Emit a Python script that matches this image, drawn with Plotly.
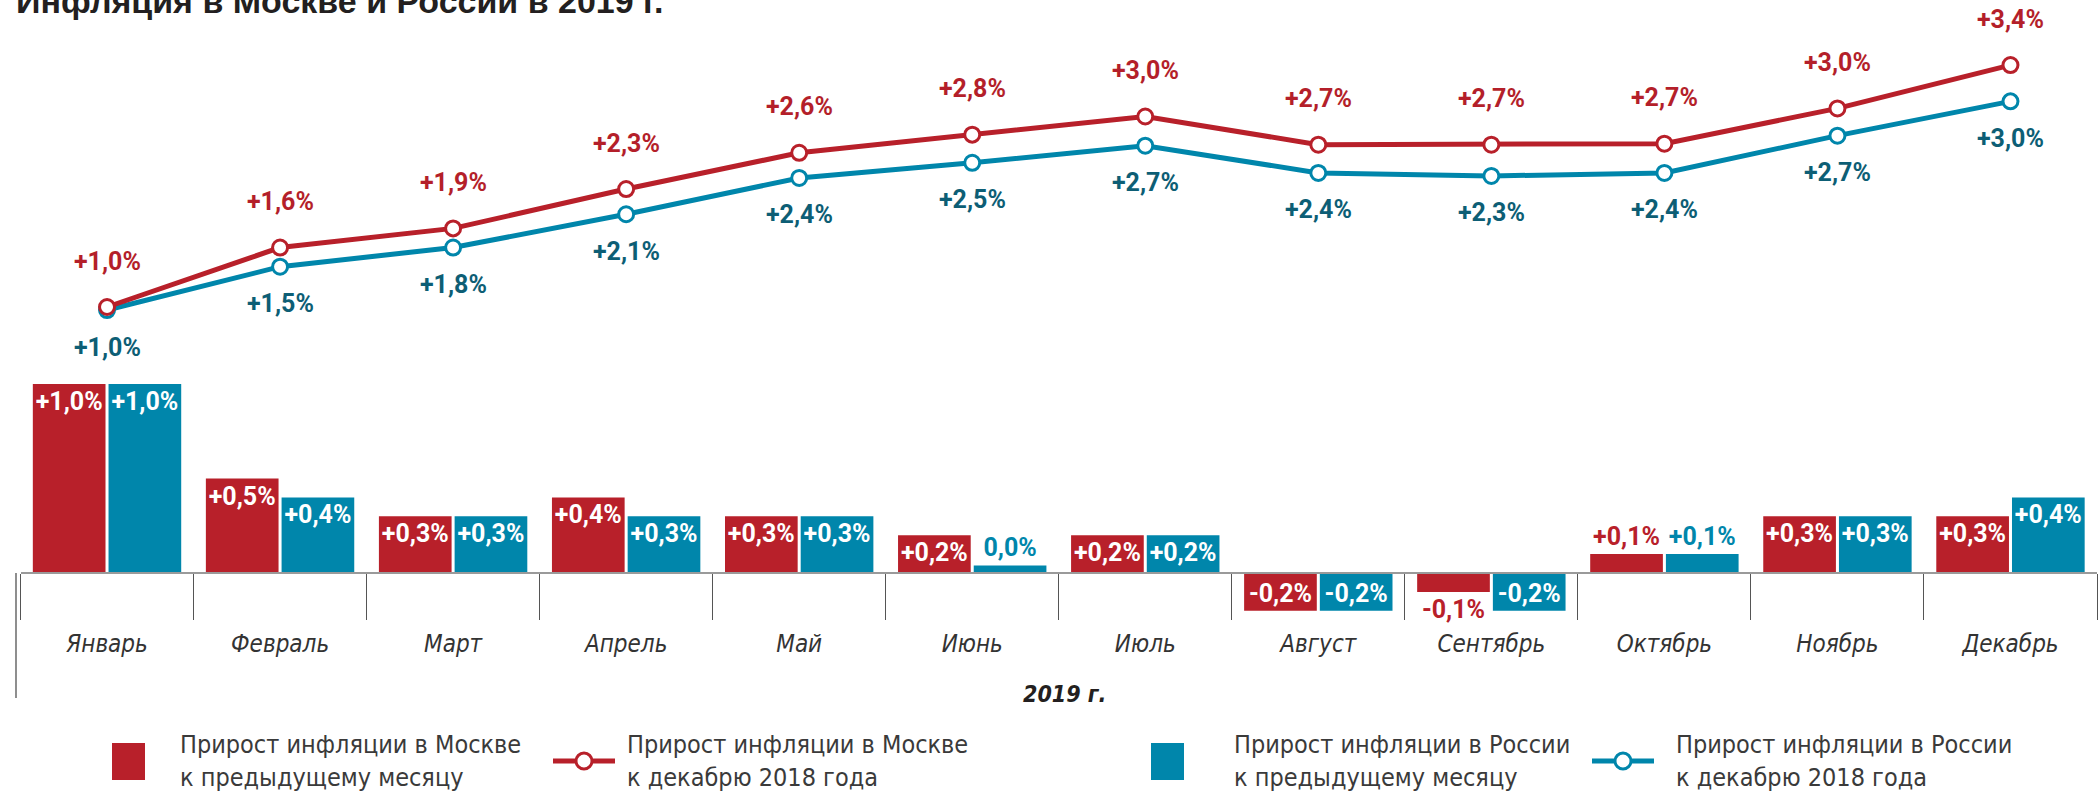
import plotly.graph_objects as go

W, H = 2098, 793

months = ["Январь", "Февраль", "Март", "Апрель", "Май", "Июнь",
          "Июль", "Август", "Сентябрь", "Октябрь", "Ноябрь", "Декабрь"]

# monthly change (bars), %
moscow_mom = [1.0, 0.5, 0.3, 0.4, 0.3, 0.2, 0.2, -0.2, -0.1, 0.1, 0.3, 0.3]
russia_mom = [1.0, 0.4, 0.3, 0.3, 0.3, 0.04, 0.2, -0.2, -0.2, 0.1, 0.3, 0.4]

# cumulative change to December 2018 (lines), positions
moscow_cum = [1.00, 1.59, 1.78, 2.17, 2.53, 2.71, 2.89, 2.61, 2.61, 2.62, 2.97, 3.40]
russia_cum = [0.97, 1.40, 1.59, 1.92, 2.28, 2.43, 2.60, 2.33, 2.30, 2.33, 2.70, 3.04]
# printed labels of the cumulative series
moscow_cum_labels = [1.0, 1.6, 1.9, 2.3, 2.6, 2.8, 3.0, 2.7, 2.7, 2.7, 3.0, 3.4]
russia_cum_labels = [1.0, 1.5, 1.8, 2.1, 2.4, 2.5, 2.7, 2.4, 2.3, 2.4, 2.7, 3.0]

title_text = "Инфляция в Москве и России в 2019 г."
axis_title = "2019 г."
legend_texts = ["Прирост инфляции в Москве<br>к предыдущему месяцу",
                "Прирост инфляции в Москве<br>к декабрю 2018 года",
                "Прирост инфляции в России<br>к предыдущему месяцу",
                "Прирост инфляции в России<br>к декабрю 2018 года"]

RED = "#B8202A"
BLUE = "#0086AB"
RED_TXT = "#B41F2A"
BLUE_TXT = "#0D5E75"
FONT = "DejaVu Sans Condensed, DejaVu Sans, sans-serif"
NUMFONT = "Roboto, sans-serif"


def fmt(v):
    r = round(v, 1)
    if r == 0:
        return "0,0%"
    return ("+" if r > 0 else "-") + f"{abs(r):.1f}".replace(".", ",") + "%"


def px(x):
    return x / W


def py(y):
    return 1 - y / H


# pixel layout
x_left, x_right = 20.5, 2097
base_px, unit_bar = 573, 189          # bars: zero line, px per 1 %
y_lo, y_hi = -0.6, 1.1
line_ref_px, unit_line = 307, 100.8   # lines: value 1.0 at px, px per 1 %
y2_lo, y2_hi = 0.5, 3.7

fig = go.Figure()


def bar_trace(vals, color):
    pos = ["inside" if abs(v) >= 0.15 else "outside" for v in vals]
    cols = ["white" if p == "inside" else color for p in pos]
    return go.Bar(
        x=months, y=vals, marker=dict(color=color, line=dict(width=0)),
        text=[fmt(v) for v in vals], textposition=pos,
        insidetextanchor="end", textangle=0, cliponaxis=False,
        textfont=dict(family=NUMFONT, size=25, color=cols, weight="bold"),
        constraintext="none", showlegend=False, hoverinfo="skip")


fig.add_trace(bar_trace(moscow_mom, RED))
fig.add_trace(bar_trace(russia_mom, BLUE))

for vals, color in [(russia_cum, BLUE), (moscow_cum, RED)]:
    fig.add_trace(go.Scatter(
        x=months, y=vals, yaxis="y2", mode="lines+markers",
        line=dict(color=color, width=5),
        marker=dict(size=15, color="white", line=dict(color=color, width=3)),
        showlegend=False, hoverinfo="skip", cliponaxis=False))

annotations = []
for m, v, lab in zip(months, moscow_cum, moscow_cum_labels):
    annotations.append(dict(x=m, y=v, xref="x", yref="y2", text=fmt(lab),
                            showarrow=False, yshift=46, yanchor="middle",
                            font=dict(family=NUMFONT, size=25, color=RED_TXT, weight="bold")))
for m, v, lab in zip(months, russia_cum, russia_cum_labels):
    annotations.append(dict(x=m, y=v, xref="x", yref="y2", text=fmt(lab),
                            showarrow=False, yshift=-37, yanchor="middle",
                            font=dict(family=NUMFONT, size=25, color=BLUE_TXT, weight="bold")))

# title (partially cut at top as in original)
annotations.append(dict(x=px(14), y=py(22), xref="paper", yref="paper",
                        xanchor="left", yanchor="bottom", showarrow=False,
                        text="<b>" + title_text + "</b>",
                        font=dict(family="Liberation Sans, sans-serif", size=34, color="#231F20")))
# x-axis title
annotations.append(dict(x=px(1064), y=py(694), xref="paper", yref="paper",
                        xanchor="center", yanchor="middle",
                        showarrow=False, text=axis_title,
                        font=dict(family=FONT, size=23, color="#231F20", weight="bold", style="italic")))

shapes = [dict(type="line", xref="paper", yref="paper",
               x0=px(16), x1=px(16), y0=py(base_px), y1=py(698),
               line=dict(color="#444444", width=1.2))]

# manual legend
leg_y = 761
sq = [(112, RED), (1151, BLUE)]
for x0, c in sq:
    shapes.append(dict(type="rect", xref="paper", yref="paper",
                       x0=px(x0), x1=px(x0 + 33), y0=py(743), y1=py(780),
                       fillcolor=c, line=dict(width=0)))
ln = [(553, RED), (1592, BLUE)]
for x0, c in ln:
    shapes.append(dict(type="line", xref="paper", yref="paper",
                       x0=px(x0), x1=px(x0 + 62), y0=py(leg_y), y1=py(leg_y),
                       line=dict(color=c, width=5)))
    cx = x0 + 31
    shapes.append(dict(type="circle", xref="paper", yref="paper",
                       x0=px(cx - 8), x1=px(cx + 8), y0=py(leg_y - 8), y1=py(leg_y + 8),
                       fillcolor="white", line=dict(color=c, width=3)))
for xt, t in zip([178, 625, 1232, 1674], legend_texts):
    annotations.append(dict(x=px(xt), y=py(leg_y), xref="paper", yref="paper",
                            xanchor="left", yanchor="middle", align="left",
                            showarrow=False, text=t,
                            font=dict(family=FONT, size=25, color="#3A3A3A")))

y_dom = [py(base_px - y_lo * unit_bar), py(base_px - y_hi * unit_bar)]
y2_dom = [py(line_ref_px + (1.0 - y2_lo) * unit_line), py(line_ref_px - (y2_hi - 1.0) * unit_line)]

fig.update_layout(
    width=W, height=H, margin=dict(l=0, r=0, t=0, b=0),
    paper_bgcolor="white", plot_bgcolor="white",
    barmode="group", bargap=0.125, bargroupgap=0.04,
    xaxis=dict(type="category", categoryorder="array", categoryarray=months,
               domain=[px(x_left), px(x_right)], range=[-0.5, 11.5],
               anchor="free", position=py(base_px),
               showline=True, linecolor="#9A9A9A", linewidth=2,
               ticks="outside", tickson="boundaries", ticklen=46,
               tickcolor="#555555", tickwidth=1, ticklabelstandoff=49,
               showgrid=False, zeroline=False,
               tickfont=dict(family=FONT, size=24, color="#333333", style="italic")),
    yaxis=dict(domain=y_dom, range=[y_lo, y_hi], visible=False,
               showgrid=False, zeroline=False),
    yaxis2=dict(domain=y2_dom, range=[y2_lo, y2_hi], anchor="x", visible=False,
                showgrid=False, zeroline=False),
    annotations=annotations, shapes=shapes,
)

fig.write_html("out.html", config={"displayModeBar": False},
               post_script="document.body.style.margin='0px';document.body.style.overflow='hidden';")
